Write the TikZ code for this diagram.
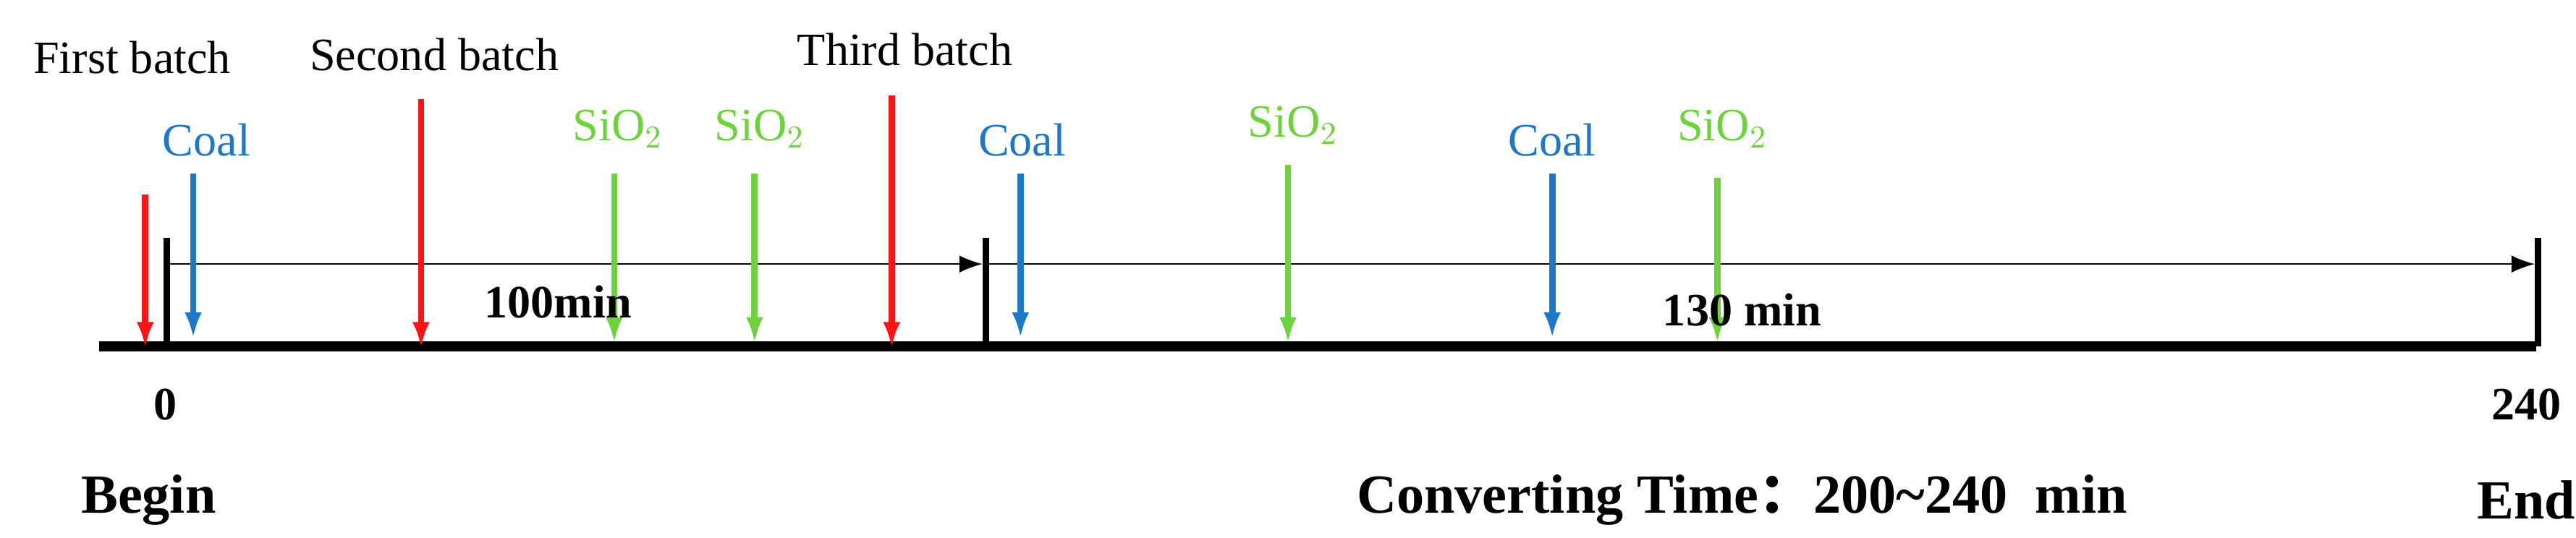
\documentclass[tikz,border=0pt]{standalone}
\usepackage{fontspec}
\usetikzlibrary{arrows.meta}
\setmainfont{Liberation Serif}
\newfontfamily\cjk{Noto Sans CJK SC}
\definecolor{rd}{RGB}{250,20,20}
\definecolor{bl}{RGB}{30,120,200}
\definecolor{gr}{RGB}{110,210,60}
\begin{document}
\begin{tikzpicture}[x=0.02cm,y=-0.02cm,
  lab/.style={font=\fontsize{16}{18}\selectfont},
  blab/.style={font=\fontsize{16}{18}\selectfont\bfseries},
  big/.style={font=\fontsize{19}{22}\selectfont\bfseries},
  darr/.style={line width=2.2pt,-{Latex[length=9pt,width=6pt]}},
  tick/.style={line width=2.2pt}]
\useasboundingbox (0,0) rectangle (1560,326);
% axis
\coordinate (a0) at (60,210); \coordinate (a1) at (1536,210);
\draw[line width=3.5pt] (a0) -- (a1);
% ticks
\foreach \n/\x in {t1/101,t2/597,t3/1537}{
  \coordinate (\n top) at (\x,144); \coordinate (\n bot) at (\x,210);
  \draw[tick] (\n top) -- (\n bot);}
% thin arrows
\coordinate (h1s) at (103,160); \coordinate (h1e) at (595,160);
\coordinate (h2s) at (599,160); \coordinate (h2e) at (1535,160);
\draw[line width=0.6pt,-{Latex[length=8pt,width=6pt]}] (h1s) -- (h1e);
\draw[line width=0.6pt,-{Latex[length=8pt,width=6pt]}] (h2s) -- (h2e);
% red
\foreach \n/\x/\y in {r1/88/118,r2/255/60,r3/540/58}{
  \coordinate (\n s) at (\x,\y); \coordinate (\n e) at (\x,211);
  \draw[darr,rd] (\n s) -- (\n e);}
% blue
\foreach \n/\x in {b1/117,b2/618,b3/940}{
  \coordinate (\n s) at (\x,105); \coordinate (\n e) at (\x,205);
  \draw[darr,bl] (\n s) -- (\n e);}
% green
\foreach \n/\x/\y in {g1/372/105,g2/457/105,g3/780/100,g4/1040/108}{
  \coordinate (\n s) at (\x,\y); \coordinate (\n e) at (\x,208);
  \draw[darr,gr] (\n s) -- (\n e);}
% labels
\node[lab] (l1) at (80,35) {First batch};
\node[lab] (l2) at (263,33) {Second batch};
\node[lab] (l3) at (548,30) {Third batch};
\node[lab,bl] (c1) at (125,85) {Coal};
\node[lab,bl] (c2) at (619,85) {Coal};
\node[lab,bl] (c3) at (940,85) {Coal};
\node[lab,gr] (s1l) at (374,78) {SiO$_2$};
\node[lab,gr] (s2l) at (460,78) {SiO$_2$};
\node[lab,gr] (s3l) at (783,76) {SiO$_2$};
\node[lab,gr] (s4l) at (1043,78) {SiO$_2$};
\node[blab] (m1) at (338,183) {100min};
\node[blab] (m2) at (1055,188) {130 min};
\node[blab] (z0) at (100,245) {0};
\node[blab] (z1) at (1530,245) {240};
\node[big] (bg) at (90,303) {Begin};
\node[big] (ct) at (1055,303) {Converting Time{\cjk ：}200\textasciitilde240\ \ min};
\node[big] (en) at (1530,303) {End};
\end{tikzpicture}
\end{document}
